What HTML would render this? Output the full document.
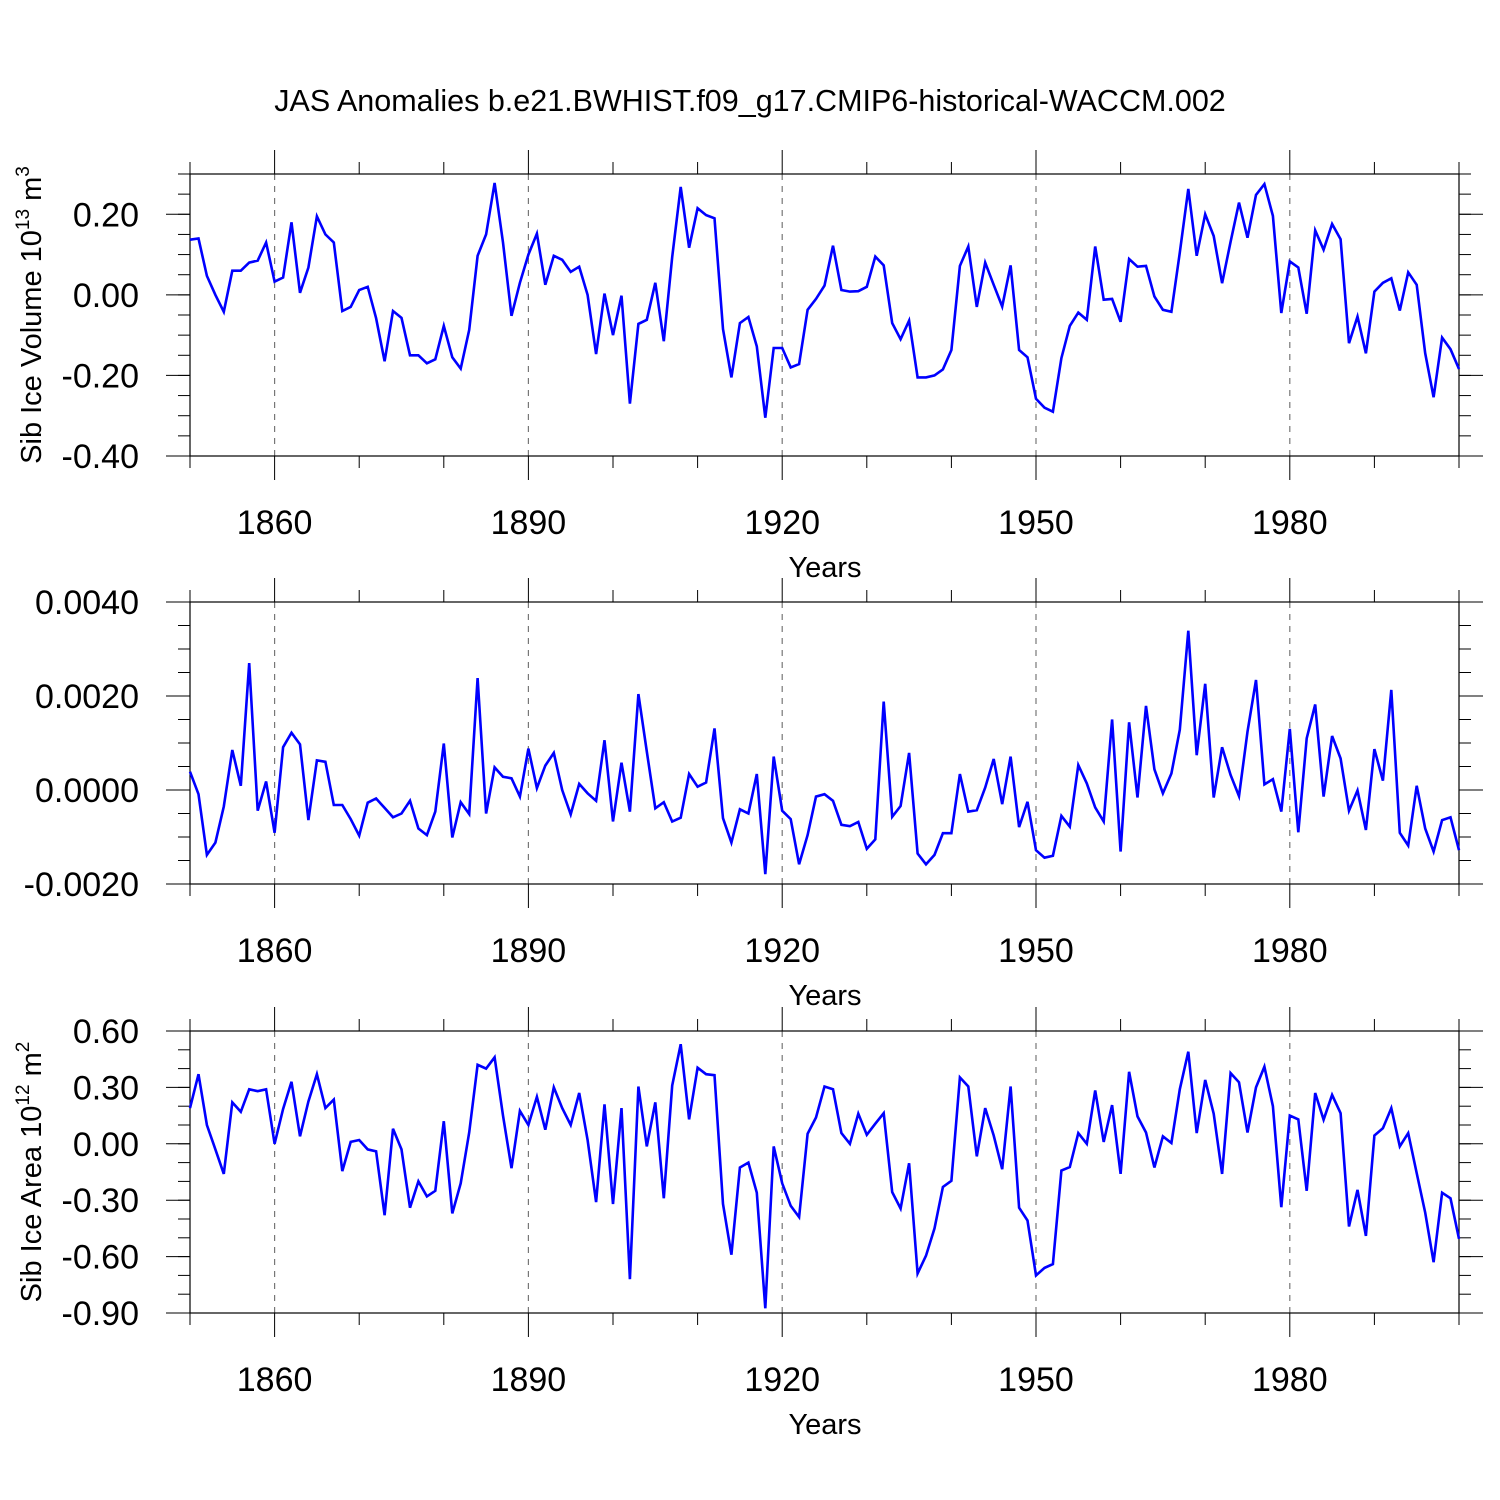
<!DOCTYPE html>
<html><head><meta charset="utf-8"><style>
html,body{margin:0;padding:0;background:#fff;}
svg{display:block;font-family:"Liberation Sans",sans-serif;}
</style></head><body>
<svg id="chart" width="1500" height="1500" viewBox="0 0 1500 1500" xmlns="http://www.w3.org/2000/svg">
<rect width="1500" height="1500" fill="#fff"/>
<text x="750" y="111" font-size="30.5" text-anchor="middle">JAS Anomalies b.e21.BWHIST.f09_g17.CMIP6-historical-WACCM.002</text>
</svg>
<script>
const startYear = 1850;
const xMajorTicks = [1860, 1890, 1920, 1950, 1980];
const iceVolume = [0.137,0.14,0.047,0.0,-0.042,0.06,0.06,0.08,0.085,0.13,0.033,0.043,0.18,0.005,0.068,0.195,0.15,0.13,-0.04,-0.03,0.012,0.02,-0.058,-0.165,-0.04,-0.057,-0.15,-0.15,-0.17,-0.16,-0.077,-0.155,-0.183,-0.087,0.097,0.15,0.278,0.13,-0.052,0.03,0.1,0.152,0.025,0.097,0.087,0.057,0.07,0.0,-0.147,0.003,-0.1,-0.002,-0.27,-0.072,-0.062,0.03,-0.115,0.094,0.268,0.117,0.215,0.198,0.19,-0.085,-0.205,-0.07,-0.055,-0.128,-0.305,-0.132,-0.132,-0.18,-0.172,-0.037,-0.01,0.023,0.122,0.012,0.008,0.009,0.02,0.095,0.073,-0.07,-0.11,-0.064,-0.205,-0.205,-0.2,-0.185,-0.137,0.072,0.12,-0.03,0.08,0.025,-0.029,0.073,-0.137,-0.155,-0.258,-0.28,-0.29,-0.157,-0.077,-0.044,-0.062,0.12,-0.012,-0.01,-0.067,0.089,0.07,0.072,-0.004,-0.037,-0.042,0.105,0.263,0.097,0.2,0.146,0.029,0.132,0.229,0.142,0.248,0.275,0.196,-0.045,0.083,0.068,-0.047,0.16,0.112,0.176,0.138,-0.12,-0.054,-0.145,0.008,0.03,0.041,-0.039,0.056,0.025,-0.145,-0.254,-0.106,-0.135,-0.184];
const snowVolume = [0.39,-0.09,-1.38,-1.12,-0.35,0.85,0.09,2.7,-0.44,0.18,-0.91,0.91,1.22,0.97,-0.64,0.63,0.6,-0.32,-0.32,-0.62,-0.97,-0.27,-0.18,-0.38,-0.58,-0.5,-0.23,-0.82,-0.96,-0.46,0.99,-1.01,-0.26,-0.51,2.38,-0.5,0.48,0.28,0.25,-0.14,0.88,0.04,0.52,0.79,0,-0.52,0.13,-0.07,-0.23,1.06,-0.67,0.58,-0.46,2.04,0.82,-0.39,-0.26,-0.67,-0.59,0.34,0.07,0.16,1.31,-0.6,-1.12,-0.41,-0.5,0.34,-1.79,0.71,-0.44,-0.62,-1.58,-0.96,-0.14,-0.09,-0.23,-0.74,-0.77,-0.68,-1.25,-1.05,1.88,-0.57,-0.34,0.79,-1.35,-1.58,-1.38,-0.92,-0.92,0.34,-0.46,-0.43,0.05,0.66,-0.3,0.71,-0.79,-0.25,-1.28,-1.44,-1.4,-0.55,-0.78,0.53,0.14,-0.37,-0.67,1.5,-1.31,1.44,-0.16,1.79,0.44,-0.07,0.35,1.28,3.39,0.74,2.26,-0.16,0.91,0.32,-0.13,1.24,2.34,0.12,0.23,-0.46,1.3,-0.9,1.1,1.82,-0.14,1.15,0.67,-0.44,-0.01,-0.85,0.87,0.2,2.13,-0.91,-1.18,0.09,-0.82,-1.31,-0.64,-0.58,-1.28].map(v=>v/1000);
const iceArea = [0.19,0.37,0.10,-0.03,-0.16,0.22,0.17,0.29,0.28,0.29,0.0,0.185,0.33,0.04,0.225,0.37,0.19,0.235,-0.145,0.01,0.02,-0.03,-0.04,-0.38,0.08,-0.03,-0.34,-0.2,-0.28,-0.25,0.12,-0.37,-0.21,0.06,0.42,0.4,0.46,0.15,-0.13,0.175,0.1,0.25,0.075,0.3,0.19,0.1,0.27,0.02,-0.31,0.21,-0.32,0.19,-0.72,0.305,-0.014,0.22,-0.29,0.31,0.53,0.13,0.405,0.37,0.365,-0.32,-0.59,-0.126,-0.1,-0.26,-0.875,-0.014,-0.21,-0.33,-0.39,0.053,0.14,0.305,0.29,0.057,0.0,0.16,0.048,0.107,0.163,-0.257,-0.344,-0.103,-0.69,-0.595,-0.45,-0.23,-0.197,0.353,0.305,-0.067,0.19,0.044,-0.135,0.305,-0.34,-0.408,-0.70,-0.66,-0.64,-0.142,-0.124,0.057,0.0,0.284,0.01,0.206,-0.16,0.383,0.146,0.06,-0.126,0.04,0.004,0.29,0.49,0.057,0.34,0.16,-0.16,0.376,0.327,0.06,0.3,0.41,0.2,-0.337,0.15,0.13,-0.25,0.27,0.128,0.26,0.163,-0.44,-0.245,-0.49,0.044,0.083,0.19,-0.014,0.057,-0.156,-0.366,-0.63,-0.26,-0.29,-0.506];
const ticks1 = [0.2,0.0,-0.2,-0.4];
const tickLabels1 = ["0.20","0.00","-0.20","-0.40"];
const ticks2 = [0.004,0.002,0,-0.002];
const tickLabels2 = ["0.0040","0.0020","0.0000","-0.0020"];
const ticks3 = [0.6,0.3,0,-0.3,-0.6,-0.9];
const tickLabels3 = ["0.60","0.30","0.00","-0.30","-0.60","-0.90"];

const svg = document.getElementById('chart');
const NS = 'http://www.w3.org/2000/svg';
const X0 = 190, X1 = 1459;
function xScale(yr){ return X0 + (yr - 1850) / 150 * (X1 - X0); }
function mk(tag, attrs){ const e = document.createElementNS(NS, tag); for (const k in attrs) e.setAttribute(k, attrs[k]); svg.appendChild(e); return e; }

const panels = [
  {key:'ice-volume', top:174, bot:456, ymin:-0.4, ymax:0.3, minorStep:0.05, data:iceVolume, ticks:ticks1, labels:tickLabels1, titleMain:'Sib Ice Volume 10', sup:'13', unit:' m', unitSup:'3', tx:41},
  {key:'snow-volume', top:602, bot:884, ymin:-0.002, ymax:0.004, minorStep:0.0005, data:snowVolume, ticks:ticks2, labels:tickLabels2, titleMain:'Sib Snow Volume 10', sup:'13', unit:' m', unitSup:'3', tx:-3},
  {key:'ice-area', top:1031, bot:1313, ymin:-0.9, ymax:0.6, minorStep:0.1, data:iceArea, ticks:ticks3, labels:tickLabels3, titleMain:'Sib Ice Area 10', sup:'12', unit:' m', unitSup:'2', tx:41}
];

panels.forEach(p => {
  const yScale = v => p.bot - (v - p.ymin) / (p.ymax - p.ymin) * (p.bot - p.top);
  xMajorTicks.forEach(yr => {
    const g = mk('line', {x1:xScale(yr), x2:xScale(yr), y1:p.top, y2:p.bot, stroke:'#777', 'stroke-width':1.2, 'stroke-dasharray':'6,6'});
    
    
  });
  for (let yr = 1850; yr <= 2000; yr += 10) {
    const major = xMajorTicks.includes(yr);
    const L = major ? 24 : 12;
    const x = xScale(yr);
    const t1 = mk('line', {x1:x, x2:x, y1:p.top - L, y2:p.top, stroke:'#000', 'stroke-width':1});
    
    
    const t2 = mk('line', {x1:x, x2:x, y1:p.bot, y2:p.bot + L, stroke:'#000', 'stroke-width':1});
    
    
  }
  xMajorTicks.forEach(yr => {
    const t = mk('text', {x:xScale(yr), y:p.bot + 78, 'font-size':34, 'text-anchor':'middle'});
    t.textContent = yr;
    
    
  });
  const xt = mk('text', {x:825, y:p.bot + 121, 'font-size':29, 'text-anchor':'middle'});
  xt.textContent = 'Years';
  
  
  const n = Math.round((p.ymax - p.ymin) / p.minorStep);
  for (let i = 0; i <= n; i++) {
    const y = yScale(p.ymin + i * p.minorStep);
    const m1 = mk('line', {x1:X0 - 12, x2:X0, y1:y, y2:y, stroke:'#000', 'stroke-width':1});
    
    
    const m2 = mk('line', {x1:X1, x2:X1 + 12, y1:y, y2:y, stroke:'#000', 'stroke-width':1});
    
    
  }
  p.ticks.forEach((v, i) => {
    const y = yScale(v);
    const a = mk('line', {x1:X0 - 24, x2:X0, y1:y, y2:y, stroke:'#000', 'stroke-width':1});
    
    
    const b = mk('line', {x1:X1, x2:X1 + 24, y1:y, y2:y, stroke:'#000', 'stroke-width':1});
    
    
    const t = mk('text', {x:139, y:y + 12, 'font-size':34, 'text-anchor':'end'});
    t.textContent = p.labels[i];
    
    
  });
  const fr = mk('rect', {x:X0, y:p.top, width:X1 - X0, height:p.bot - p.top, fill:'none', stroke:'#000', 'stroke-width':1.2});
  
  
  const cy = (p.top + p.bot) / 2;
  const yt = mk('text', {x:0, y:0, 'font-size':29, 'text-anchor':'middle', transform:'translate(' + p.tx + ',' + cy + ') rotate(-90)'});
  
  
  const s1 = document.createElementNS(NS, 'tspan'); s1.textContent = p.titleMain; yt.appendChild(s1);
  const s2 = document.createElementNS(NS, 'tspan'); s2.setAttribute('font-size', 19); s2.setAttribute('dy', -12); s2.textContent = p.sup; yt.appendChild(s2);
  const s3 = document.createElementNS(NS, 'tspan'); s3.setAttribute('dy', 12); s3.textContent = p.unit; yt.appendChild(s3);
  const s4 = document.createElementNS(NS, 'tspan'); s4.setAttribute('font-size', 19); s4.setAttribute('dy', -12); s4.textContent = p.unitSup; yt.appendChild(s4);
  const pts = p.data.map((v, i) => xScale(startYear + i).toFixed(1) + ',' + yScale(v).toFixed(1)).join(' ');
  const line = mk('polyline', {points:pts, fill:'none', stroke:'#0000ff', 'stroke-width':2.6, 'stroke-linejoin':'miter'});
  
  
});
</script>
</body></html>
